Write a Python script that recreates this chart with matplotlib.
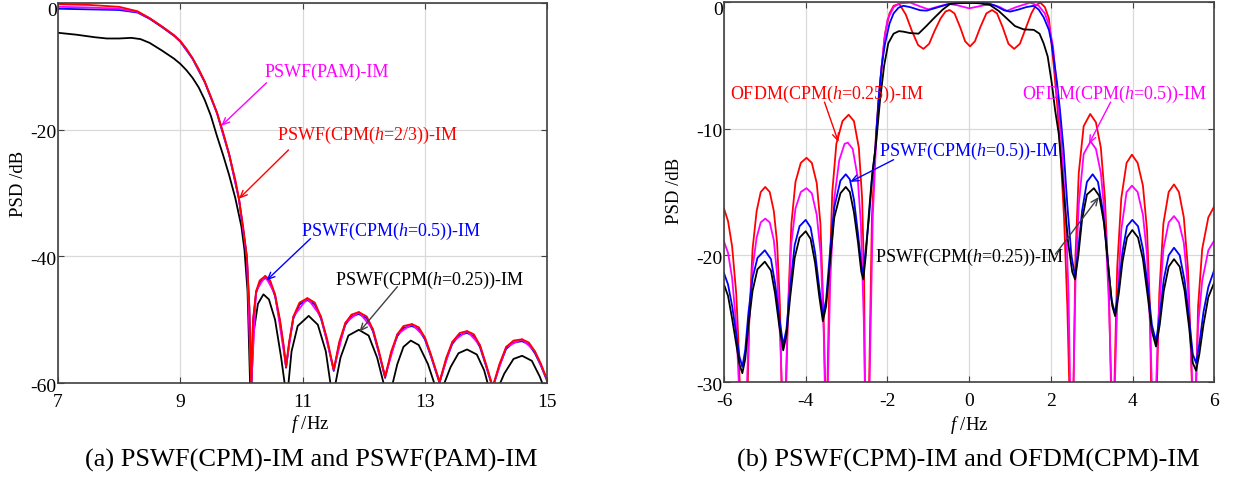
import matplotlib
matplotlib.use("Agg")
import matplotlib.pyplot as plt
import matplotlib.transforms as mtransforms
import numpy as np

plt.rcParams['font.family'] = ['Liberation Serif', 'DejaVu Serif']
plt.rcParams['mathtext.fontset'] = 'custom'
plt.rcParams['mathtext.rm'] = 'Liberation Serif'
plt.rcParams['mathtext.it'] = 'Liberation Serif:italic'
plt.rcParams['axes.unicode_minus'] = False

#### data: (f [Hz], PSD [dB]) ####
# (a) PSWF(CPM)-IM and PSWF(PAM)-IM
a_red = [(7.0, -0.2), (7.5, -0.3), (8.0, -0.6), (8.3, -1.3), (8.5, -2.4), (8.7, -3.7), (8.9, -5.1),
         (9.0, -6.0), (9.1, -7.2), (9.2, -8.7), (9.3, -10.4), (9.4, -12.4), (9.5, -14.8), (9.6, -17.3),
         (9.7, -20.4), (9.8, -23.9), (9.9, -27.9), (9.96, -30.9), (10.03, -35.5), (10.09, -40.1),
         (10.13, -48.0), (10.16, -60.5), (10.19, -50.0), (10.24, -45.5), (10.3, -43.8), (10.39, -43.1),
         (10.47, -43.8), (10.55, -46.0), (10.63, -50.0), (10.69, -54.0), (10.73, -57.4), (10.78, -53.5),
         (10.85, -49.5), (10.95, -47.3), (11.08, -46.6), (11.2, -47.3), (11.3, -49.5), (11.4, -53.0),
         (11.51, -57.9), (11.6, -53.5), (11.7, -50.5), (11.8, -49.2), (11.92, -48.8), (12.05, -49.5),
         (12.15, -51.5), (12.25, -55.0), (12.35, -59.0), (12.45, -55.0), (12.55, -52.3), (12.65, -51.0),
         (12.79, -50.7), (12.9, -51.2), (13.0, -52.8), (13.1, -55.5), (13.24, -59.8), (13.35, -56.0),
         (13.45, -53.5), (13.57, -52.1), (13.69, -51.8), (13.8, -52.3), (13.9, -54.0), (14.0, -57.0),
         (14.11, -60.6), (14.22, -57.0), (14.33, -54.3), (14.45, -53.3), (14.59, -53.1), (14.7, -53.6),
         (14.8, -55.0), (14.9, -57.0), (15.0, -59.5)]
a_magenta = [(7.0, -0.6), (7.5, -0.7), (8.0, -0.9), (8.3, -1.4), (8.5, -2.4), (8.7, -3.7), (8.9, -5.1),
             (9.0, -6.0), (9.2, -8.7), (9.4, -12.4), (9.6, -17.3), (9.8, -23.9), (9.96, -30.9),
             (10.09, -40.1), (10.16, -60.5), (10.24, -45.5), (10.39, -43.1), (10.55, -46.0), (10.73, -57.4),
             (10.85, -49.5), (11.08, -46.6), (11.3, -49.5), (11.51, -57.9), (11.7, -50.5), (11.92, -48.8),
             (12.15, -51.5), (12.35, -59.0), (12.55, -52.3), (12.79, -50.7), (13.0, -52.8), (13.24, -59.8),
             (13.45, -53.5), (13.69, -51.8), (13.9, -54.0), (14.11, -60.6), (14.33, -54.3), (14.59, -53.1),
             (14.8, -55.0), (15.0, -59.5)]
a_blue = [(7.0, -0.9), (7.5, -1.0), (8.0, -1.1), (8.3, -1.5), (8.5, -2.5), (8.7, -3.8), (8.9, -5.2),
          (9.0, -6.1), (9.2, -8.8), (9.4, -12.5), (9.6, -17.4), (9.8, -24.0), (9.96, -31.0),
          (10.09, -40.3), (10.13, -48.3), (10.16, -60.5), (10.19, -50.3), (10.24, -45.8), (10.3, -44.1),
          (10.39, -43.4), (10.47, -44.1), (10.55, -46.3), (10.63, -50.3), (10.69, -54.3), (10.73, -57.6),
          (10.78, -53.8), (10.85, -49.8), (10.95, -47.6), (11.08, -46.9), (11.2, -47.6), (11.3, -49.8),
          (11.4, -53.3), (11.51, -58.1), (11.6, -53.8), (11.7, -50.8), (11.8, -49.5), (11.92, -49.1),
          (12.05, -49.8), (12.15, -51.8), (12.25, -55.3), (12.35, -59.2), (12.45, -55.3), (12.55, -52.6),
          (12.65, -51.3), (12.79, -51.0), (12.9, -51.5), (13.0, -53.1), (13.1, -55.8), (13.24, -60.0),
          (13.35, -56.3), (13.45, -53.8), (13.57, -52.4), (13.69, -52.1), (13.8, -52.6), (13.9, -54.3),
          (14.0, -57.3), (14.11, -60.8), (14.22, -57.3), (14.33, -54.6), (14.45, -53.6), (14.59, -53.4),
          (14.7, -53.9), (14.8, -55.3), (14.9, -57.3), (15.0, -59.7)]
a_black = [(7.0, -4.7), (7.3, -5.0), (7.6, -5.4), (7.8, -5.6), (8.0, -5.6), (8.2, -5.5), (8.35, -5.7),
           (8.5, -6.3), (8.7, -7.5), (8.9, -8.8), (9.0, -9.6), (9.1, -10.6), (9.2, -11.8), (9.3, -13.3),
           (9.4, -15.3), (9.5, -17.8), (9.6, -21.0), (9.7, -24.0), (9.8, -27.2), (9.9, -30.8),
           (10.0, -35.3), (10.05, -39.0), (10.1, -45.5), (10.15, -63.0), (10.2, -52.0), (10.27, -47.5),
           (10.36, -46.0), (10.45, -46.8), (10.55, -50.0), (10.65, -56.0), (10.72, -61.0), (10.76, -61.0),
           (10.82, -55.0), (10.92, -51.0), (11.1, -49.4), (11.25, -50.8), (11.38, -55.0), (11.47, -61.0),
           (11.52, -61.0), (11.62, -56.0), (11.75, -52.5), (11.92, -51.6), (12.08, -52.5), (12.22, -56.0),
           (12.35, -61.0), (12.45, -61.0), (12.55, -57.0), (12.65, -54.3), (12.77, -53.3), (12.9, -54.0),
           (13.05, -57.0), (13.17, -60.5), (13.3, -60.5), (13.42, -57.5), (13.55, -55.3), (13.69, -54.7),
           (13.85, -55.5), (13.97, -58.0), (14.04, -60.5), (14.21, -60.5), (14.3, -58.5), (14.45, -56.2),
           (14.59, -55.7), (14.75, -56.5), (14.88, -59.0), (14.94, -60.5), (15.0, -61.5)]

# (b) PSWF(CPM)-IM and OFDM(CPM)-IM
b_ofdm_025 = [(-6.0, -16.3), (-5.9, -17.3), (-5.8, -19.3), (-5.7, -23.0), (-5.65, -26.5), (-5.61, -30.5),
              (-5.52, -45), (-5.42, -30.5), (-5.38, -25.0), (-5.3, -19.5), (-5.2, -16.5), (-5.1, -15.0),
              (-4.99, -14.6), (-4.88, -15.0), (-4.78, -16.5), (-4.7, -19.0), (-4.63, -24.0), (-4.59, -30.5),
              (-4.53, -45), (-4.48, -30.5), (-4.43, -24.0), (-4.35, -17.5), (-4.25, -14.2), (-4.12, -12.7),
              (-3.98, -12.3), (-3.85, -12.7), (-3.73, -14.3), (-3.64, -17.5), (-3.57, -24.0), (-3.52, -30.5),
              (-3.5, -45), (-3.47, -30.5), (-3.42, -22.0), (-3.35, -15.0), (-3.25, -11.2), (-3.1, -9.4),
              (-2.95, -8.9), (-2.82, -9.4), (-2.7, -11.5), (-2.62, -15.5), (-2.57, -22.0), (-2.55, -30.5),
              (-2.5, -45), (-2.45, -30.5), (-2.38, -17.0), (-2.28, -10.4), (-2.18, -6.4), (-2.06, -2.5),
              (-1.95, -0.9), (-1.85, -0.3), (-1.71, -0.15), (-1.55, -1.0), (-1.4, -2.3), (-1.25, -3.4),
              (-1.12, -3.7), (-0.98, -3.3), (-0.85, -2.3), (-0.7, -1.3), (-0.58, -0.75), (-0.48, -0.63),
              (-0.36, -0.9), (-0.22, -2.0), (-0.1, -3.1), (0.02, -3.5), (0.14, -3.1), (0.27, -2.0),
              (0.42, -0.9), (0.56, -0.63), (0.68, -0.9), (0.82, -2.0), (0.96, -3.3), (1.1, -3.7),
              (1.24, -3.3), (1.38, -2.1), (1.52, -0.9), (1.63, -0.25), (1.74, -0.05), (1.85, -0.4),
              (1.95, -1.3), (2.07, -5.1), (2.15, -8.0), (2.23, -11.7), (2.32, -17.0), (2.4, -24.0),
              (2.45, -30.5), (2.5, -45), (2.55, -30.5), (2.6, -20.0), (2.68, -13.5), (2.8, -9.8),
              (2.96, -8.84), (3.1, -9.5), (3.22, -11.5), (3.32, -15.5), (3.42, -23.0), (3.47, -30.5),
              (3.51, -45), (3.55, -30.5), (3.62, -21.0), (3.72, -15.5), (3.85, -12.7), (3.98, -12.05),
              (4.12, -12.7), (4.25, -14.5), (4.35, -18.0), (4.42, -24.0), (4.45, -30.5), (4.52, -45),
              (4.59, -30.5), (4.65, -23.0), (4.75, -17.5), (4.88, -15.0), (5.01, -14.4), (5.13, -15.0),
              (5.25, -17.0), (5.35, -21.0), (5.42, -27.0), (5.45, -30.5), (5.5, -45), (5.55, -30.5),
              (5.6, -24.0), (5.7, -19.5), (5.85, -17.0), (6.0, -16.1)]
b_ofdm_05 = [(-6.0, -18.9), (-5.9, -19.8), (-5.8, -21.8), (-5.7, -25.5), (-5.63, -30.5), (-5.52, -45),
             (-5.44, -30.5), (-5.38, -25.0), (-5.3, -21.0), (-5.2, -18.6), (-5.1, -17.4), (-4.99, -17.1),
             (-4.88, -17.4), (-4.78, -18.8), (-4.7, -21.5), (-4.62, -27.0), (-4.58, -30.5), (-4.53, -45),
             (-4.49, -30.5), (-4.44, -25.0), (-4.35, -19.0), (-4.25, -16.3), (-4.12, -15.0), (-3.98, -14.7),
             (-3.85, -15.1), (-3.73, -16.8), (-3.63, -20.0), (-3.56, -26.0), (-3.53, -30.5), (-3.5, -45),
             (-3.46, -30.5), (-3.4, -22.0), (-3.3, -15.5), (-3.18, -12.5), (-3.05, -11.2), (-2.97, -11.1),
             (-2.85, -11.6), (-2.73, -13.8), (-2.65, -17.5), (-2.58, -25.0), (-2.55, -30.5), (-2.5, -45),
             (-2.44, -30.5), (-2.36, -17.0), (-2.27, -10.5), (-2.18, -6.5), (-2.08, -3.0), (-2.0, -1.4),
             (-1.85, -0.4), (-1.7, -0.1), (-1.44, -0.05), (-1.2, -0.35), (-1.0, -0.58), (-0.75, -0.35),
             (-0.5, -0.15), (-0.3, -0.25), (0.0, -0.5), (0.3, -0.3), (0.5, -0.15), (0.75, -0.4),
             (0.92, -0.7), (1.15, -0.4), (1.49, -0.05), (1.7, -0.3), (1.85, -0.9), (1.95, -1.8),
             (2.05, -3.5), (2.15, -7.0), (2.25, -10.8), (2.35, -16.0), (2.43, -23.0), (2.47, -30.5),
             (2.51, -45), (2.55, -30.5), (2.6, -22.0), (2.68, -16.0), (2.8, -12.0), (2.97, -11.0),
             (3.1, -11.6), (3.22, -13.5), (3.32, -17.0), (3.42, -24.0), (3.48, -30.5), (3.52, -45),
             (3.56, -30.5), (3.62, -24.0), (3.72, -18.0), (3.85, -15.0), (3.98, -14.5), (4.12, -15.0),
             (4.25, -16.8), (4.35, -20.0), (4.43, -26.0), (4.47, -30.5), (4.52, -45), (4.57, -30.5),
             (4.63, -25.0), (4.75, -19.5), (4.88, -17.4), (5.01, -16.9), (5.13, -17.4), (5.25, -19.0),
             (5.35, -22.5), (5.43, -28.0), (5.46, -30.5), (5.5, -45), (5.54, -30.5), (5.6, -25.5),
             (5.7, -22.0), (5.85, -19.6), (6.0, -18.8)]
b_pswf_05 = [(-6.0, -21.4), (-5.9, -22.3), (-5.8, -24.0), (-5.7, -26.2), (-5.62, -28.0), (-5.55, -28.8),
             (-5.48, -27.5), (-5.4, -24.5), (-5.3, -21.8), (-5.18, -20.2), (-5.0, -19.6), (-4.85, -20.3),
             (-4.75, -22.2), (-4.65, -24.8), (-4.55, -27.1), (-4.47, -25.8), (-4.38, -22.5), (-4.27, -19.2),
             (-4.15, -17.7), (-4.0, -17.2), (-3.88, -17.8), (-3.77, -19.8), (-3.67, -22.5), (-3.58, -24.8),
             (-3.5, -23.5), (-3.4, -19.5), (-3.3, -16.2), (-3.15, -14.1), (-3.02, -13.6), (-2.92, -14.0),
             (-2.82, -15.6), (-2.72, -18.3), (-2.64, -20.8), (-2.59, -21.4), (-2.53, -19.5), (-2.45, -17.0),
             (-2.38, -14.0), (-2.3, -11.7), (-2.22, -7.7), (-2.14, -5.0), (-2.06, -3.3), (-1.95, -1.7),
             (-1.85, -0.9), (-1.73, -0.45), (-1.61, -0.3), (-1.45, -0.4), (-1.2, -0.65), (-1.04, -0.68),
             (-0.8, -0.45), (-0.55, -0.2), (-0.38, -0.1), (0.0, -0.08), (0.4, -0.05), (0.65, -0.3),
             (0.85, -0.65), (1.0, -0.76), (1.2, -0.6), (1.4, -0.4), (1.58, -0.3), (1.7, -0.6),
             (1.82, -1.2), (1.95, -2.2), (2.02, -3.3), (2.15, -6.4), (2.22, -8.5), (2.31, -11.7),
             (2.4, -16.0), (2.5, -20.0), (2.59, -21.7), (2.67, -19.5), (2.76, -16.5), (2.88, -14.2),
             (3.02, -13.6), (3.15, -14.2), (3.27, -16.5), (3.38, -20.0), (3.48, -23.5), (3.57, -24.6),
             (3.66, -22.5), (3.75, -19.7), (3.86, -17.7), (3.99, -17.2), (4.13, -17.7), (4.25, -19.5),
             (4.37, -22.5), (4.47, -25.5), (4.57, -26.8), (4.66, -24.8), (4.76, -21.9), (4.88, -20.0),
             (5.01, -19.4), (5.15, -20.0), (5.27, -22.0), (5.38, -25.0), (5.47, -27.8), (5.55, -28.5),
             (5.63, -27.0), (5.73, -24.5), (5.85, -22.5), (6.0, -21.1)]
b_pswf_025 = [(-6.0, -22.3), (-5.9, -23.2), (-5.8, -25.0), (-5.7, -27.0), (-5.62, -28.6), (-5.55, -29.3),
              (-5.48, -28.2), (-5.4, -25.5), (-5.3, -22.8), (-5.18, -21.1), (-5.0, -20.5), (-4.85, -21.2),
              (-4.75, -23.0), (-4.65, -25.5), (-4.55, -27.5), (-4.47, -26.3), (-4.38, -23.3), (-4.27, -20.2),
              (-4.15, -18.6), (-4.0, -18.1), (-3.88, -18.7), (-3.77, -20.6), (-3.67, -23.2), (-3.58, -25.2),
              (-3.5, -24.0), (-3.4, -20.3), (-3.3, -17.0), (-3.15, -15.1), (-3.02, -14.6), (-2.92, -15.0),
              (-2.82, -16.6), (-2.72, -19.0), (-2.64, -21.3), (-2.59, -21.9), (-2.53, -20.0), (-2.45, -16.5),
              (-2.37, -13.5), (-2.28, -11.2), (-2.18, -7.7), (-2.08, -5.0), (-1.98, -3.26), (-1.85, -2.5),
              (-1.72, -2.3), (-1.61, -2.34), (-1.45, -2.45), (-1.24, -2.5), (-1.05, -1.9), (-0.87, -1.3),
              (-0.65, -0.6), (-0.47, -0.16), (-0.2, -0.05), (0.0, -0.05), (0.25, -0.1), (0.51, -0.24),
              (0.72, -0.7), (0.92, -1.3), (1.12, -1.9), (1.33, -2.16), (1.58, -2.2), (1.72, -2.5),
              (1.82, -3.26), (1.92, -4.3), (2.02, -6.4), (2.1, -8.5), (2.19, -10.4), (2.3, -14.5),
              (2.42, -19.0), (2.52, -21.3), (2.59, -21.9), (2.67, -20.0), (2.76, -17.2), (2.88, -15.2),
              (3.05, -14.7), (3.18, -15.3), (3.3, -17.5), (3.42, -21.5), (3.5, -24.0), (3.57, -24.8),
              (3.66, -23.0), (3.75, -20.5), (3.86, -18.6), (3.99, -18.0), (4.13, -18.6), (4.25, -20.3),
              (4.37, -23.3), (4.47, -26.0), (4.57, -27.2), (4.66, -25.5), (4.76, -22.8), (4.88, -20.9),
              (5.01, -20.3), (5.15, -20.9), (5.27, -22.8), (5.38, -25.7), (5.47, -28.5), (5.55, -29.1),
              (5.63, -27.8), (5.73, -25.5), (5.85, -23.3), (6.0, -22.1)]

a_xticks = [7, 9, 11, 13, 15]
a_yticks = [0, -20, -40, -60]
b_xticks = [-6, -4, -2, 0, 2, 4, 6]
b_yticks = [0, -10, -20, -30]

#### figure ####
fig = plt.figure(figsize=(12.39, 4.79), dpi=100)
ax1 = fig.add_axes([0.0468, 0.2004, 0.3948, 0.7933])
ax2 = fig.add_axes([0.5843, 0.2025, 0.3959, 0.7933])

lw = 1.3
for pts, col in [(a_black, 'black'), (a_blue, 'blue'), (a_magenta, 'magenta'), (a_red, 'red')]:
    d = np.array(pts)
    ax1.plot(d[:, 0], d[:, 1], color=col, lw=lw)

for pts, col in [(b_ofdm_025, 'red'), (b_ofdm_05, 'magenta'), (b_pswf_05, 'blue'), (b_pswf_025, 'black')]:
    d = np.array(pts)
    ax2.plot(d[:, 0], d[:, 1], color=col, lw=lw)

ax1.set_xlim(7, 15)
ax1.set_ylim(-60, 0)
ax1.set_xticks(a_xticks)
ax1.set_yticks(a_yticks)
ax2.set_xlim(-6, 6)
ax2.set_ylim(-30, 0)
ax2.set_xticks(b_xticks)
ax2.set_yticks(b_yticks)

for ax in (ax1, ax2):
    ax.grid(True, color='#d9d9d9', lw=0.9)
    ax.set_axisbelow(True)
    for sp in ax.spines.values():
        sp.set_color('#404040')
        sp.set_linewidth(1.2)
    ax.tick_params(direction='in', length=4, width=0.8, color='#404040',
                   top=True, right=True)
    ax.tick_params(axis='x', labelsize=14, pad=8)
    ax.tick_params(axis='y', labelsize=14, pad=1)
    # MATLAB-like: y tick labels sit a bit below their tick, the top one more so
    labs = ax.get_yticklabels()
    for lab in labs:
        dy = 6 if lab.get_text() == '0' else 2
        lab.set_transform(lab.get_transform() +
                          mtransforms.ScaledTranslation(0, -dy / 100, fig.dpi_scale_trans))
    ax.set_ylabel('PSD /dB', fontsize=13.5)
    ax.set_xlabel('$f$ /Hz', fontsize=13.5)

ax1.yaxis.set_label_coords(-0.063, 0.524)
ax1.xaxis.set_label_coords(0.515, -0.08)
ax2.yaxis.set_label_coords(-0.084, 0.503)
ax2.xaxis.set_label_coords(0.5, -0.083)

#### annotations ####
def note(ax, txt, xy_txt, tail, head, col, acol=None):
    ax.text(xy_txt[0], xy_txt[1], txt, color=col, fontsize=13, ha='left', va='center')
    ax.annotate('', xy=head, xytext=tail,
                arrowprops=dict(arrowstyle='->,head_length=0.5,head_width=0.22',
                                color=acol or col, lw=1.0, shrinkA=0, shrinkB=0))

note(ax1, 'PSWF(PAM)-IM', (10.37, -10.9), (10.41, -12.6), (9.67, -19.4), 'magenta')
note(ax1, 'PSWF(CPM($h$=2/3))-IM', (10.58, -20.85), (10.77, -23.2), (9.96, -30.9), 'red')
note(ax1, 'PSWF(CPM($h$=0.5))-IM', (10.97, -36.0), (11.13, -37.2), (10.41, -43.8), 'blue')
note(ax1, 'PSWF(CPM($h$=0.25))-IM', (11.53, -43.8), (12.55, -44.8), (11.93, -51.9), 'black', '#404040')

note(ax2, 'OFDM(CPM($h$=0.25))-IM', (-5.86, -7.3), (-3.54, -7.9), (-3.2, -11.05), 'red')
note(ax2, 'OFDM(CPM($h$=0.5))-IM', (1.29, -7.3), (3.46, -7.9), (2.93, -11.2), 'magenta')
note(ax2, 'PSWF(CPM($h$=0.5))-IM', (-2.21, -11.8), (-1.85, -12.45), (-2.91, -14.2), 'blue')
note(ax2, 'PSWF(CPM($h$=0.25))-IM', (-2.3, -20.2), (2.11, -19.9), (3.17, -15.4), 'black', '#404040')

fig.text(311 / 1239, 1 - 460 / 479, '(a) PSWF(CPM)-IM and PSWF(PAM)-IM', fontsize=19,
         ha='center', va='center')
fig.text(968 / 1239, 1 - 460 / 479, '(b) PSWF(CPM)-IM and OFDM(CPM)-IM', fontsize=19,
         ha='center', va='center')

fig.savefig('out.png', dpi=100)
